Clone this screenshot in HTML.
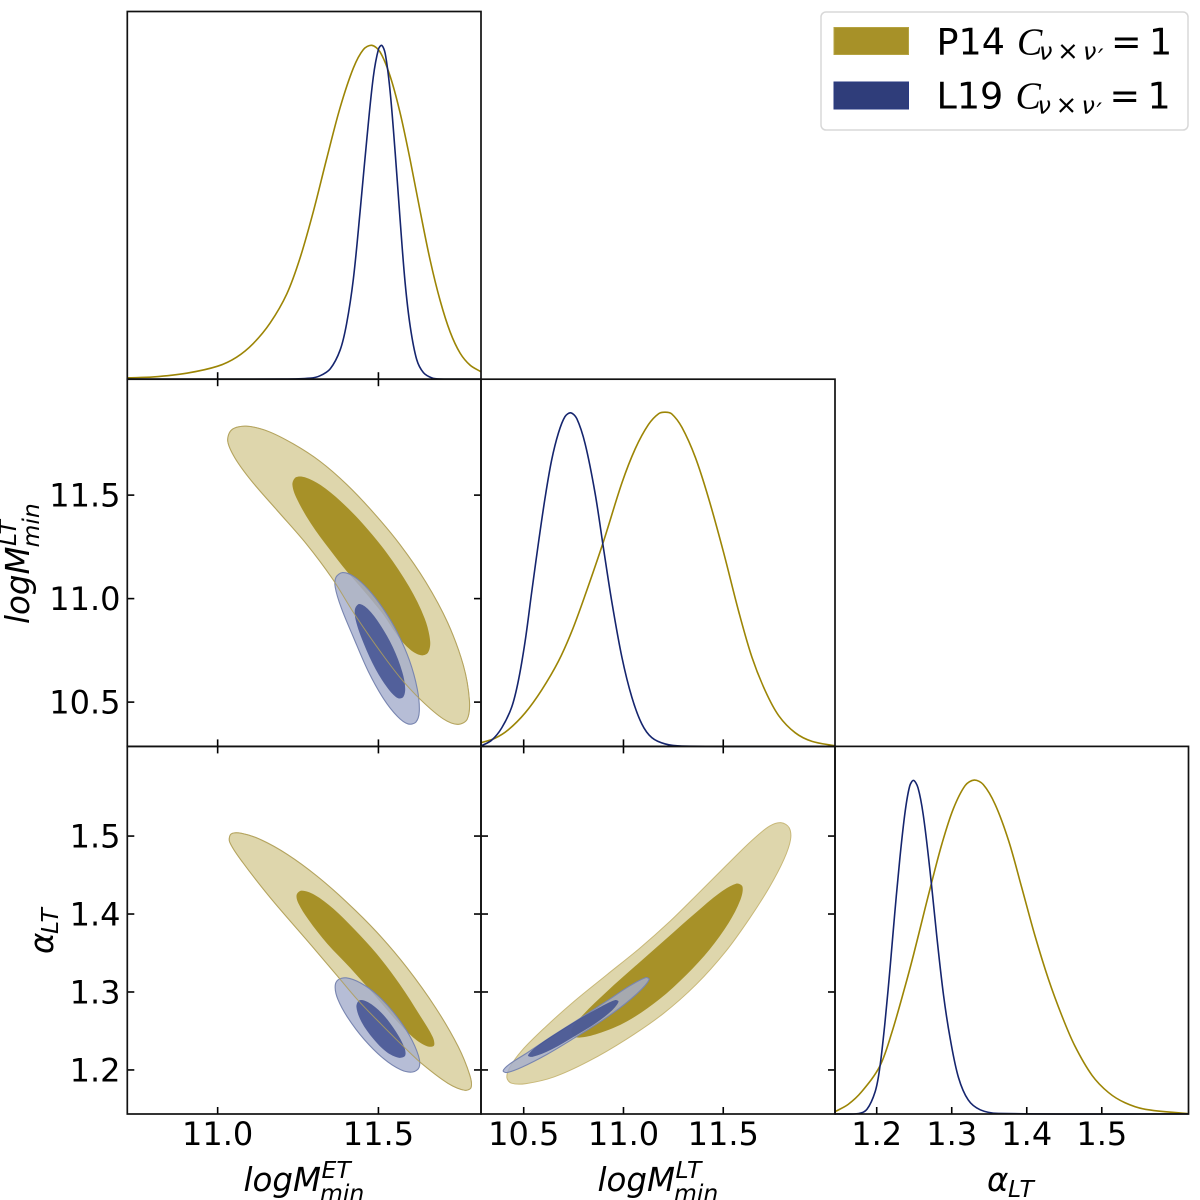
<!DOCTYPE html>
<html lang="en">
<head>
<meta charset="utf-8">
<title>Triangle plot of posterior constraints</title>
<style>
html,body{margin:0;padding:0;background:#fff;}
#chart{display:block;width:1200px;height:1200px;font-family:"DejaVu Sans","Liberation Sans",sans-serif;}
#chart text{fill:#000;}
</style>
</head>
<body>
<svg id="chart" xmlns="http://www.w3.org/2000/svg" width="1200" height="1200" viewBox="0 0 1200 1200">
  <rect x="0" y="0" width="1200" height="1200" fill="#fff"/>
  <g id="panels"></g>
  <g id="axis-labels" font-size="32.5" font-style="italic">
    <g>
      <text x="243.5" y="1191">logM</text>
      <text x="321.5" y="1178" font-size="23.5">ET</text>
      <text x="320" y="1201" font-size="23.5">min</text>
    </g>
    <g>
      <text x="597.5" y="1191">logM</text>
      <text x="675.5" y="1178" font-size="23.5">LT</text>
      <text x="674" y="1201" font-size="23.5">min</text>
    </g>
    <g>
      <text x="987" y="1191">α</text>
      <text x="1008" y="1197" font-size="23.5">LT</text>
    </g>
    <g>
      <text transform="translate(29,624) rotate(-90)">logM</text>
      <text transform="translate(16,546) rotate(-90)" font-size="23.5">LT</text>
      <text transform="translate(39,547.5) rotate(-90)" font-size="23.5">min</text>
    </g>
    <g>
      <text transform="translate(53,954) rotate(-90)">α</text>
      <text transform="translate(58,934) rotate(-90)" font-size="23.5">LT</text>
    </g>
  </g>
  <g id="legend">
    <rect x="821" y="12" width="367" height="118" rx="5" ry="5" fill="#fff" stroke="#d8d8d8" stroke-width="1.5"/>
    <g>
      <rect x="834" y="27.5" width="74.5" height="27" fill="#a79128" stroke="#b5a340" stroke-width="1"/>
      <text x="936.5" y="54.5" font-size="36.5">P14</text>
      <text x="1017" y="54.5" font-size="38" font-style="italic" style="font-family:'Liberation Serif',serif">C</text>
      <text x="1039" y="59.5" font-size="24" font-style="italic">ν</text>
      <text x="1057" y="59.5" font-size="26">×</text>
      <text x="1083" y="59.5" font-size="24" font-style="italic">ν</text>
      <text x="1098" y="66" font-size="24" font-style="italic">′</text>
      <text x="1111" y="54.5" font-size="36.5">=</text>
      <text x="1149" y="54.5" font-size="36.5">1</text>
    </g>
    <g>
      <rect x="834" y="82" width="74.5" height="27" fill="#2f3d7a" stroke="#2a3a82" stroke-width="1"/>
      <text x="936.5" y="108.5" font-size="36.5">L19</text>
      <text x="1015.5" y="108.5" font-size="38" font-style="italic" style="font-family:'Liberation Serif',serif">C</text>
      <text x="1037.5" y="113.5" font-size="24" font-style="italic">ν</text>
      <text x="1055.5" y="113.5" font-size="26">×</text>
      <text x="1081.5" y="113.5" font-size="24" font-style="italic">ν</text>
      <text x="1096.5" y="120" font-size="24" font-style="italic">′</text>
      <text x="1109.5" y="108.5" font-size="36.5">=</text>
      <text x="1147.5" y="108.5" font-size="36.5">1</text>
    </g>
  </g>
</svg>
<script>
// Tick values
const logMetTicks = [11.0, 11.5];
const logMltTicks = [10.5, 11.0, 11.5];
const alphaTicks = [1.2, 1.3, 1.4, 1.5];

// Axis data ranges
const logMetRange = [10.719, 11.819];
const logMltRange = [10.286, 12.06];
const alphaRange = [1.1444, 1.6156];
const densityRange = [0, 1.098];

// 1D posterior: logM_min^ET
const metGridP14 = [10.719,10.800,10.904,11.0,11.059,11.111,11.163,11.215,11.256,11.298,11.339,11.381,11.422,11.453,11.479,11.505,11.536,11.567,11.599,11.630,11.661,11.692,11.723,11.754,11.785,11.819];
const metDensityP14 = [.004,.006,.017,.037,.064,.105,.165,.25,.358,.500,.659,.815,.933,.988,1,.982,.91,.80,.655,.500,.352,.232,.138,.075,.040,.022];
const metGridL19 = [10.719,11.2,11.287,11.318,11.350,11.381,11.401,11.422,11.443,11.464,11.484,11.500,11.510,11.521,11.536,11.552,11.567,11.583,11.599,11.619,11.640,11.666,11.692,11.819];
const metDensityL19 = [0,0,.002,.009,.027,.082,.161,.291,.500,.72,.91,.99,1,.98,.87,.68,.480,.281,.151,.052,.017,.003,0,0];

// 1D posterior: logM_min^LT
const mltGridP14 = [10.286,10.356,10.423,10.507,10.590,10.674,10.741,10.808,10.900,10.992,11.059,11.125,11.176,11.209,11.242,11.293,11.360,11.426,11.502,11.577,11.644,11.711,11.778,11.861,11.945,12.06];
const mltDensityP14 = [.011,.023,.048,.098,.167,.252,.342,.452,.611,.791,.893,.965,.997,1,.997,.957,.868,.745,.581,.402,.262,.163,.088,.038,.013,.002];
const mltGridL19 = [10.286,10.339,10.390,10.440,10.473,10.507,10.540,10.574,10.607,10.640,10.674,10.707,10.736,10.766,10.808,10.858,10.900,10.941,10.992,11.042,11.092,11.142,11.209,11.293,12.06];
const mltDensityL19 = [.001,.016,.053,.113,.192,.31,.462,.61,.745,.86,.94,.99,1,.985,.910,.761,.591,.432,.262,.143,.063,.023,.006,0,0];

// 1D posterior: alpha_LT
const alphaGridP14 = [1.1444,1.162,1.180,1.204,1.220,1.238,1.249,1.264,1.273,1.287,1.302,1.318,1.330,1.342,1.358,1.376,1.393,1.411,1.429,1.447,1.464,1.487,1.509,1.531,1.558,1.6156];
const alphaDensityP14 = [.007,.027,.065,.135,.24,.382,.474,.61,.69,.81,.915,.986,1,.988,.928,.819,.679,.530,.400,.291,.201,.112,.062,.032,.012,.001];
const alphaGridL19 = [1.1444,1.176,1.187,1.198,1.204,1.211,1.218,1.224,1.231,1.238,1.244,1.249,1.255,1.262,1.271,1.280,1.289,1.298,1.309,1.322,1.338,1.362,1.6156];
const alphaDensityL19 = [0,0,.010,.062,.131,.27,.44,.6,.77,.91,.985,1,.98,.90,.73,.530,.351,.221,.102,.037,.010,0,0];

// 2D contours: logM_ET vs logM_LT
const metMltP14OuterX = [11.025,11.038,11.085,11.152,11.235,11.318,11.401,11.484,11.567,11.650,11.718,11.770,11.787,11.780,11.749,11.707,11.630,11.567,11.495,11.422,11.360,11.277,11.184,11.101,11.049];
const metMltP14OuterY = [11.766,11.822,11.840,11.817,11.750,11.669,11.556,11.419,11.267,11.081,10.888,10.671,10.494,10.405,10.386,10.405,10.510,10.614,10.767,10.928,11.097,11.267,11.428,11.572,11.685];
const metMltP14InnerX = [11.228,11.241,11.267,11.318,11.381,11.453,11.526,11.599,11.650,11.665,11.656,11.635,11.599,11.562,11.516,11.453,11.401,11.350,11.287,11.241];
const metMltP14InnerY = [11.556,11.592,11.593,11.556,11.476,11.363,11.226,11.057,10.896,10.783,10.732,10.719,10.748,10.808,10.928,11.041,11.130,11.234,11.363,11.492];
const metMltL19OuterX = [11.386,11.422,11.469,11.516,11.557,11.599,11.624,11.630,11.619,11.593,11.562,11.516,11.469,11.422,11.381,11.362,11.365];
const metMltL19OuterY = [11.134,11.114,11.049,10.952,10.848,10.703,10.558,10.445,10.397,10.387,10.421,10.510,10.638,10.816,10.961,11.065,11.105];
const metMltL19InnerX = [11.438,11.464,11.505,11.547,11.578,11.586,11.578,11.562,11.531,11.490,11.453,11.427,11.424];
const metMltL19InnerY = [10.983,10.961,10.880,10.767,10.638,10.558,10.518,10.510,10.558,10.655,10.783,10.896,10.952];

// 2D contours: logM_ET vs alpha
const metAlphaP14OuterX = [11.029,11.038,11.070,11.132,11.215,11.308,11.401,11.495,11.588,11.682,11.754,11.790,11.791,11.775,11.723,11.630,11.588,11.505,11.433,11.376,11.277,11.163,11.070];
const metAlphaP14OuterY = [1.495,1.504,1.505,1.497,1.478,1.450,1.416,1.378,1.333,1.279,1.228,1.189,1.176,1.172,1.179,1.209,1.226,1.260,1.290,1.319,1.367,1.420,1.470];
const metAlphaP14InnerX = [11.243,11.256,11.298,11.360,11.422,11.495,11.567,11.635,11.676,11.676,11.656,11.609,11.557,11.484,11.412,11.339,11.277,11.246];
const metAlphaP14InnerY = [1.425,1.432,1.427,1.408,1.382,1.350,1.311,1.266,1.239,1.230,1.228,1.240,1.262,1.298,1.332,1.361,1.395,1.416];
const metAlphaL19OuterX = [11.363,11.370,11.396,11.443,11.495,11.547,11.599,11.630,11.630,11.609,11.573,11.516,11.453,11.401,11.370];
const metAlphaL19OuterY = [1.307,1.316,1.320,1.313,1.298,1.275,1.245,1.215,1.202,1.196,1.198,1.213,1.239,1.268,1.292];
const metAlphaL19InnerX = [11.427,11.438,11.464,11.510,11.557,11.586,11.586,11.567,11.526,11.484,11.443];
const metAlphaL19InnerY = [1.283,1.291,1.289,1.275,1.249,1.226,1.217,1.214,1.221,1.239,1.262];

// 2D contours: logM_LT vs alpha
const mltAlphaP14OuterX = [11.794,11.836,11.844,11.811,11.736,11.635,11.518,11.368,11.201,11.017,10.816,10.649,10.498,10.431,10.410,10.423,10.482,10.599,10.749,10.916,11.084,11.234,11.385,11.518,11.652,11.736];
const mltAlphaP14OuterY = [1.519,1.512,1.497,1.472,1.435,1.395,1.352,1.309,1.271,1.239,1.209,1.189,1.181,1.182,1.189,1.202,1.224,1.253,1.288,1.322,1.356,1.390,1.429,1.463,1.497,1.515];
const mltAlphaP14InnerX = [11.577,11.602,11.594,11.535,11.435,11.318,11.184,11.017,10.866,10.749,10.724,10.783,10.916,11.067,11.217,11.368,11.485];
const mltAlphaP14InnerY = [1.442,1.437,1.420,1.390,1.354,1.322,1.290,1.260,1.245,1.239,1.249,1.268,1.301,1.335,1.369,1.403,1.429];
const mltAlphaL19OuterX = [11.125,11.137,11.100,11.017,10.900,10.766,10.615,10.482,10.406,10.390,10.415,10.515,10.649,10.783,10.916,11.033];
const mltAlphaL19OuterY = [1.321,1.318,1.305,1.286,1.264,1.243,1.219,1.202,1.195,1.198,1.206,1.221,1.245,1.266,1.288,1.309];
const mltAlphaL19InnerX = [10.970,10.983,10.950,10.866,10.766,10.632,10.532,10.512,10.548,10.649,10.766,10.883];
const mltAlphaL19InnerY = [1.292,1.289,1.277,1.260,1.245,1.224,1.215,1.217,1.228,1.245,1.264,1.281];

// Layout of the grid (frame only)
const colEdges = [127.3, 481, 835, 1188.5];
const rowEdges = [11.5, 379.2, 746.4, 1114];
const TICK_LEN = 7;
const SMOOTH = 0.17;
const SVGNS = 'http://www.w3.org/2000/svg';
const root = document.getElementById('panels');

function linear(domain, range) {
  return function (v) {
    return range[0] + (v - domain[0]) / (domain[1] - domain[0]) * (range[1] - range[0]);
  };
}
function make(tag, attrs, parent) {
  const el = document.createElementNS(SVGNS, tag);
  for (const k in attrs) el.setAttribute(k, attrs[k]);
  parent.appendChild(el);
  return el;
}
function f(n) { return n.toFixed(2); }

// Light neighbour averaging that removes reading jitter from the traced outlines
function relaxClosed(pts) {
  const n = pts.length;
  return pts.map(function (p, i) {
    const a = pts[(i - 1 + n) % n], b = pts[(i + 1) % n];
    return [p[0] + SMOOTH * (a[0] + b[0] - 2 * p[0]), p[1] + SMOOTH * (a[1] + b[1] - 2 * p[1])];
  });
}
function relaxOpen(pts) {
  const n = pts.length;
  return pts.map(function (p, i) {
    if (i === 0 || i === n - 1) return p;
    const a = pts[i - 1], b = pts[i + 1];
    const t = (p[0] - a[0]) / ((b[0] - a[0]) || 1);
    const onChord = a[1] + t * (b[1] - a[1]);
    return [p[0], p[1] + 2 * SMOOTH * (onChord - p[1]) * 0.6];
  });
}

// Chord-length Hermite spline through points, open or closed
function splinePath(pts, closed) {
  const n = pts.length;
  const at = function (i) {
    if (closed) return pts[(i + n) % n];
    return pts[Math.max(0, Math.min(n - 1, i))];
  };
  const dist = function (a, b) { return Math.hypot(b[0] - a[0], b[1] - a[1]); };
  const tangent = function (i) {
    const a = at(i - 1), b = at(i), c = at(i + 1);
    const d1 = dist(a, b), d2 = dist(b, c), sum = (d1 + d2) || 1;
    return [(c[0] - a[0]) / sum, (c[1] - a[1]) / sum];
  };
  let d = 'M' + f(pts[0][0]) + ' ' + f(pts[0][1]);
  const segs = closed ? n : n - 1;
  for (let i = 0; i < segs; i++) {
    const p1 = at(i), p2 = at(i + 1);
    const seg = dist(p1, p2);
    const t1 = tangent(i), t2 = tangent(i + 1);
    const c1x = p1[0] + t1[0] * seg / 3, c1y = p1[1] + t1[1] * seg / 3;
    const c2x = p2[0] - t2[0] * seg / 3, c2y = p2[1] - t2[1] * seg / 3;
    d += 'C' + f(c1x) + ' ' + f(c1y) + ' ' + f(c2x) + ' ' + f(c2y) + ' ' + f(p2[0]) + ' ' + f(p2[1]);
  }
  return d + (closed ? 'Z' : '');
}
function project(xs, ys, sx, sy) {
  return xs.map(function (x, i) { return [sx(x), sy(ys[i])]; });
}

function drawContour(group, xs, ys, sx, sy, style, name) {
  const el = make('path', Object.assign({ d: splinePath(relaxClosed(project(xs, ys, sx, sy)), true) }, style), group);
  
  
}
function drawCurve(group, xs, ys, sx, sy, color, name) {
  const el = make('path', { d: splinePath(relaxOpen(project(xs, ys, sx, sy)), false), fill: 'none', stroke: color, 'stroke-width': 1.6 }, group);
  
  
}
function drawTick(group, x1, y1, x2, y2, name) {
  const el = make('line', { x1: x1, y1: y1, x2: x2, y2: y2, stroke: '#000', 'stroke-width': 1.6 }, group);
  
  
}
function drawTickLabel(group, x, y, anchor, str, name) {
  const el = make('text', { x: x, y: y, 'text-anchor': anchor, 'font-size': 32 }, group);
  el.textContent = str;
  
  
}
function newGroup(name) {
  const g = make('g', {}, root);
  
  
  return g;
}
function drawFrame(group, col, row) {
  const el = make('rect', {
    x: colEdges[col], y: rowEdges[row],
    width: colEdges[col + 1] - colEdges[col], height: rowEdges[row + 1] - rowEdges[row],
    fill: 'none', stroke: '#111', 'stroke-width': 1.7
  }, group);
  
  
}

const styleP14Outer = { fill: '#ded6ac', stroke: '#c8b878', 'stroke-width': 1 };
const styleP14Inner = { fill: '#a79128', stroke: 'none' };
const styleL19Outer = { fill: '#a6aecd', 'fill-opacity': .82, stroke: '#7885b0', 'stroke-width': 1.1 };
const styleL19Inner = { fill: '#3c4c8d', 'fill-opacity': .82, stroke: 'none' };
const styleP14Edge = { fill: 'none', stroke: '#b0a05a', 'stroke-width': 1, 'stroke-opacity': .85 };

function diagonalPanel(col, row, domain, ticks, gridP, densP, gridL, densL, name) {
  const g = newGroup(name);
  const sx = linear(domain, [colEdges[col], colEdges[col + 1]]);
  const sy = linear(densityRange, [rowEdges[row + 1], rowEdges[row]]);
  drawCurve(g, gridP, densP, sx, sy, '#9c8505', 'p14-posterior-curve');
  drawCurve(g, gridL, densL, sx, sy, '#15256e', 'l19-posterior-curve');
  ticks.forEach(function (t) {
    drawTick(g, sx(t), rowEdges[row + 1], sx(t), rowEdges[row + 1] - TICK_LEN, 'x-tick');
  });
  drawFrame(g, col, row);
}

function contourPanel(col, row, xDomain, yDomain, xTicks, yTicks, sets, name) {
  const g = newGroup(name);
  const sx = linear(xDomain, [colEdges[col], colEdges[col + 1]]);
  const sy = linear(yDomain, [rowEdges[row + 1], rowEdges[row]]);
  drawContour(g, sets.pox, sets.poy, sx, sy, styleP14Outer, 'p14-outer-contour');
  drawContour(g, sets.pix, sets.piy, sx, sy, styleP14Inner, 'p14-inner-contour');
  drawContour(g, sets.lox, sets.loy, sx, sy, styleL19Outer, 'l19-outer-contour');
  drawContour(g, sets.lix, sets.liy, sx, sy, styleL19Inner, 'l19-inner-contour');
  if (sets.edge) drawContour(g, sets.pox, sets.poy, sx, sy, styleP14Edge, 'p14-outer-contour-edge');
  xTicks.forEach(function (t) {
    drawTick(g, sx(t), rowEdges[row + 1], sx(t), rowEdges[row + 1] - TICK_LEN, 'x-tick');
    drawTick(g, sx(t), rowEdges[row], sx(t), rowEdges[row] + TICK_LEN, 'x-tick-top');
  });
  yTicks.forEach(function (t) {
    drawTick(g, colEdges[col], sy(t), colEdges[col] + TICK_LEN, sy(t), 'y-tick');
    drawTick(g, colEdges[col + 1], sy(t), colEdges[col + 1] - TICK_LEN, sy(t), 'y-tick-right');
  });
  drawFrame(g, col, row);
}

diagonalPanel(0, 0, logMetRange, logMetTicks, metGridP14, metDensityP14, metGridL19, metDensityL19, 'panel-logm-et-posterior');
diagonalPanel(1, 1, logMltRange, logMltTicks, mltGridP14, mltDensityP14, mltGridL19, mltDensityL19, 'panel-logm-lt-posterior');
diagonalPanel(2, 2, alphaRange, alphaTicks, alphaGridP14, alphaDensityP14, alphaGridL19, alphaDensityL19, 'panel-alpha-lt-posterior');

contourPanel(0, 1, logMetRange, logMltRange, logMetTicks, logMltTicks, {
  pox: metMltP14OuterX, poy: metMltP14OuterY, pix: metMltP14InnerX, piy: metMltP14InnerY,
  lox: metMltL19OuterX, loy: metMltL19OuterY, lix: metMltL19InnerX, liy: metMltL19InnerY, edge: true
}, 'panel-logm-et-vs-logm-lt');
contourPanel(0, 2, logMetRange, [1.1435, 1.615], logMetTicks, alphaTicks, {
  pox: metAlphaP14OuterX, poy: metAlphaP14OuterY, pix: metAlphaP14InnerX, piy: metAlphaP14InnerY,
  lox: metAlphaL19OuterX, loy: metAlphaL19OuterY, lix: metAlphaL19InnerX, liy: metAlphaL19InnerY, edge: true
}, 'panel-logm-et-vs-alpha');
contourPanel(1, 2, logMltRange, [1.1435, 1.615], logMltTicks, alphaTicks, {
  pox: mltAlphaP14OuterX, poy: mltAlphaP14OuterY, pix: mltAlphaP14InnerX, piy: mltAlphaP14InnerY,
  lox: mltAlphaL19OuterX, loy: mltAlphaL19OuterY, lix: mltAlphaL19InnerX, liy: mltAlphaL19InnerY, edge: false
}, 'panel-logm-lt-vs-alpha');

// Tick labels
const labelGroup = newGroup('tick-labels');
const xScales = [
  [linear(logMetRange, [colEdges[0], colEdges[1]]), logMetTicks, 1],
  [linear(logMltRange, [colEdges[1], colEdges[2]]), logMltTicks, 1],
  [linear(alphaRange, [colEdges[2], colEdges[3]]), alphaTicks, 1]
];
xScales.forEach(function (s) {
  s[1].forEach(function (t) {
    drawTickLabel(labelGroup, s[0](t), 1145, 'middle', t.toFixed(s[2]), 'x-tick-label');
  });
});
const syMlt = linear(logMltRange, [rowEdges[2], rowEdges[1]]);
logMltTicks.forEach(function (t) {
  drawTickLabel(labelGroup, 120.5, syMlt(t) + 11.5, 'end', t.toFixed(1), 'y-tick-label');
});
const syAlpha = linear([1.1435, 1.615], [rowEdges[3], rowEdges[2]]);
alphaTicks.forEach(function (t) {
  drawTickLabel(labelGroup, 120.5, syAlpha(t) + 11.5, 'end', t.toFixed(1), 'y-tick-label');
});
</script>
</body>
</html>
